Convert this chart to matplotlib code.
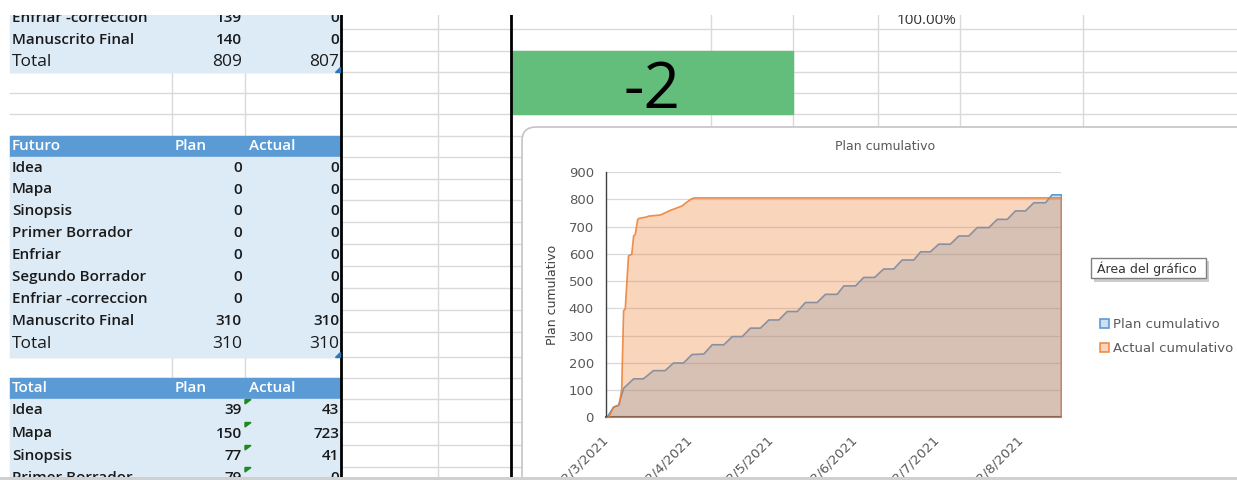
import numpy as np
import matplotlib.pyplot as plt
import matplotlib.dates as mdates
from matplotlib.patches import Rectangle, FancyBboxPatch, Polygon
from matplotlib.ticker import FuncFormatter, MultipleLocator

plt.rcParams['font.family'] = ['Open Sans', 'DejaVu Sans']

# --- datos del grafico (dias desde 12/3/2021) ---
inicio = np.datetime64('2021-03-12')
dia_fin = 167.8

plan_dia = [0, 2.5, 4.3, 6.2, 9.9, 13.5, 17.2, 21.5, 24.6, 28.3, 31.4, 35.8, 38.9, 43.2,
            46.3, 50.0, 53.0, 56.7, 59.8, 63.5, 66.6, 70.3, 73.3, 77.6, 80.7, 85.0, 87.5,
            91.8, 94.8, 98.8, 102.2, 105.9, 109.0, 113.3, 115.8, 119.4, 122.5, 126.8,
            129.9, 133.6, 136.7, 141.0, 144.1, 147.8, 150.8, 154.5, 157.6, 161.9, 164.3, 167.8]
plan_val = [0, 39, 45, 108, 143, 143, 173, 173, 201, 201, 232, 234, 268, 268,
            298, 298, 329, 329, 359, 359, 390, 390, 423, 423, 453, 453, 484,
            484, 515, 515, 546, 546, 579, 579, 609, 609, 637, 637,
            667, 667, 698, 698, 728, 728, 759, 759, 789, 789, 818, 818]

actual_dia = [0, 0.6, 2.5, 4.6, 5.5, 6.2, 6.8, 8.0, 9.2, 9.9, 10.5, 11.4, 12.0, 14.8,
              15.4, 19.7, 21.5, 23.4, 27.7, 29.5, 31.4, 32.5, 167.8]
actual_val = [0, 0, 39, 48, 106, 393, 399, 594, 600, 667, 673, 728, 732, 737,
              740, 744, 752, 761, 777, 791, 804, 807, 807]

# --- datos de las tablas ---
arriba_etiq = ['Enfriar -correccion', 'Manuscrito Final']
arriba_plan = [139, 140]
arriba_actual = [0, 0]
arriba_total = [809, 807]

futuro_etiq = ['Idea', 'Mapa', 'Sinopsis', 'Primer Borrador', 'Enfriar',
               'Segundo Borrador', 'Enfriar -correccion', 'Manuscrito Final']
futuro_plan = [0, 0, 0, 0, 0, 0, 0, 310]
futuro_actual = [0, 0, 0, 0, 0, 0, 0, 310]
futuro_total = [310, 310]

total_etiq = ['Idea', 'Mapa', 'Sinopsis', 'Primer Borrador']
total_plan = [39, 150, 77, 79]
total_actual = [43, 723, 41, 0]

diferencia = -2
porcentaje = '100.00%'

# --- hoja de calculo ---
W, H = 1237, 480
fig = plt.figure(figsize=(W / 100, H / 100), dpi=100)

bg = fig.add_axes([0, 0, 1, 1])
bg.set_xlim(0, W)
bg.set_ylim(H, 0)
bg.axis('off')

filas = [8, 29, 51, 72, 93, 114, 136, 157, 179, 200, 222, 244, 266, 288, 310, 332,
         357, 378, 399, 422, 445, 467, 489]
columnas = [172, 245, 438, 711, 793, 878, 960, 1083]
gris = '#dadada'
for y in filas:
    bg.plot([10, W], [y, y], color=gris, lw=1, zorder=1)
for x in columnas:
    bg.plot([x, x], [8, H], color=gris, lw=1, zorder=1)

azul_claro = '#ddebf7'
azul_cab = '#5b9bd5'
texto = '#1a1a1a'
peso = 'semibold'


def bloque(r0, r1, color):
    bg.add_patch(Rectangle((10, filas[r0]), 331, filas[r1] - filas[r0], color=color, zorder=2))


def fila(r, etiq, p, a, size=11, color=texto, weight=peso):
    yc = (filas[r] + filas[r + 1]) / 2
    kw = dict(fontsize=size, color=color, va='center', zorder=4, fontweight=weight)
    bg.text(12, yc, etiq, **kw)
    bg.text(242, yc, str(p), ha='right', **kw)
    bg.text(339, yc, str(a), ha='right', **kw)


def cabecera(r, titulo):
    bloque(r, r + 1, azul_cab)
    yc = (filas[r] + filas[r + 1]) / 2
    kw = dict(fontsize=11, color='white', va='center', zorder=4, fontweight=peso)
    bg.text(12, yc, titulo, **kw)
    bg.text(175, yc, 'Plan', **kw)
    bg.text(249, yc, 'Actual', **kw)


def marca_azul(r):
    yb = filas[r + 1]
    bg.add_patch(Polygon([(340, yb - 5), (340, yb), (335, yb)], color='#2e75b6', zorder=4))


# tabla superior
bloque(0, 3, azul_claro)
for i in range(len(arriba_etiq)):
    fila(i, arriba_etiq[i], arriba_plan[i], arriba_actual[i])
fila(2, 'Total', arriba_total[0], arriba_total[1], size=12.5, weight='normal')
marca_azul(2)

# tabla Futuro
cabecera(6, 'Futuro')
bloque(7, 16, azul_claro)
for i in range(len(futuro_etiq)):
    fila(7 + i, futuro_etiq[i], futuro_plan[i], futuro_actual[i])
fila(15, 'Total', futuro_total[0], futuro_total[1], size=12.5, weight='normal')
marca_azul(15)

# tabla Total
cabecera(17, 'Total')
bloque(18, 22, azul_claro)
for i in range(len(total_etiq)):
    fila(18 + i, total_etiq[i], total_plan[i], total_actual[i])
    yt = filas[18 + i]
    bg.add_patch(Polygon([(245, yt + 0.5), (251, yt + 0.5), (245, yt + 5)], color='#1e8a1e', zorder=4))

# lineas negras
for x in [341, 511]:
    bg.plot([x, x], [15, H], color='black', lw=2, zorder=3)

# celda verde
bg.add_patch(Rectangle((512, 51), 281, 63, color='#63be7b', zorder=2))
bg.text(652, 108, str(diferencia), fontsize=46, ha='center', va='baseline', color='black', zorder=4)
bg.text(957, 20, porcentaje, fontsize=11, ha='right', va='center', color='#333333', zorder=4)

# area del grafico
bg.add_patch(FancyBboxPatch((522, 127), 780, 400, boxstyle='round,pad=0,rounding_size=14',
                            fc='white', ec='#c4c4c4', lw=1.2, zorder=5))

# --- grafico ---
ax = fig.add_axes([606.3 / W, 1 - 417.3 / H, (1061 - 606.3) / W, (417.3 - 172) / H])
t0 = mdates.date2num(inicio)
xp = t0 + np.array(plan_dia)
xa = t0 + np.array(actual_dia)

azul = (91 / 255, 155 / 255, 213 / 255)
naranja = (237 / 255, 125 / 255, 49 / 255)
pol_plan = ax.fill_between(xp, plan_val, facecolor=azul + (0.3,), edgecolor=azul, lw=1.2, zorder=2)
pol_act = ax.fill_between(xa, actual_val, facecolor=naranja + (0.32,), edgecolor=naranja + (0.85,),
                          lw=1.2, zorder=3)

ax.set_xlim(t0, t0 + dia_fin)
ax.set_ylim(0, 900)
ax.yaxis.set_major_locator(MultipleLocator(100))
ax.xaxis.set_major_locator(mdates.MonthLocator(bymonthday=12))


def fecha(v, pos):
    d = mdates.num2date(v)
    return f'{d.day}/{d.month}/{d.year}'


ax.xaxis.set_major_formatter(FuncFormatter(fecha))
ax.grid(axis='y', color='#d9d9d9', lw=0.9)
ax.set_axisbelow(True)
ax.tick_params(axis='both', length=0, labelsize=9.5, labelcolor='#595959')
ax.tick_params(axis='y', pad=9)
ax.tick_params(axis='x', pad=14)
for lab in ax.get_yticklabels():
    lab.set_fontfamily('DejaVu Sans')
for t in ax.xaxis.get_major_ticks():
    t.label1.set_rotation(45)
    t.label1.set_ha('right')
    t.label1.set_va('center')
    t.label1.set_rotation_mode('anchor')
    t.label1.set_fontfamily('DejaVu Sans')
    t.label1.set_fontsize(9.5)
ax.spines['top'].set_visible(False)
ax.spines['right'].set_visible(False)
ax.spines['left'].set_color('#404040')
ax.spines['left'].set_linewidth(1)
ax.spines['bottom'].set_color('#595959')
ax.spines['bottom'].set_linewidth(1.5)

# --- capa superior: titulos, leyenda, tooltip, recortes ---
ov = fig.add_axes([0, 0, 1, 1], zorder=10)
ov.set_xlim(0, W)
ov.set_ylim(H, 0)
ov.axis('off')
ov.patch.set_visible(False)

ov.text(885, 147, 'Plan cumulativo', family='DejaVu Sans', fontsize=9, color='#595959',
        ha='center', va='center')
ov.text(553, 294.5, 'Plan cumulativo', family='DejaVu Sans', fontsize=9, color='#404040',
        rotation=90, ha='center', va='center')

ov.legend(handles=[pol_plan, pol_act], labels=['Plan cumulativo', 'Actual cumulativo'],
          loc='upper left', bbox_to_anchor=(1100, 318), bbox_transform=ov.transData,
          frameon=False, prop={'family': 'DejaVu Sans', 'size': 9.5}, labelcolor='#595959',
          handlelength=0.7, handleheight=0.7, handletextpad=0.3, labelspacing=0.85,
          borderpad=0, borderaxespad=0)

ov.add_patch(Rectangle((1093.5, 260.5), 115, 21, fc='#9a9a9a', alpha=0.5, ec='none'))
ov.add_patch(Rectangle((1091, 258), 115, 20, fc='white', ec='#808080', lw=1))
ov.text(1097, 268.5, 'Área del gráfico', family='DejaVu Sans', fontsize=9, color='#333333',
        va='center')

ov.add_patch(Rectangle((0, 0), W, 15, fc='white', ec='none'))
ov.add_patch(Rectangle((0, 477), W, 3, fc='#d0d0d0', ec='none'))

fig.savefig('out.png', dpi=100)
